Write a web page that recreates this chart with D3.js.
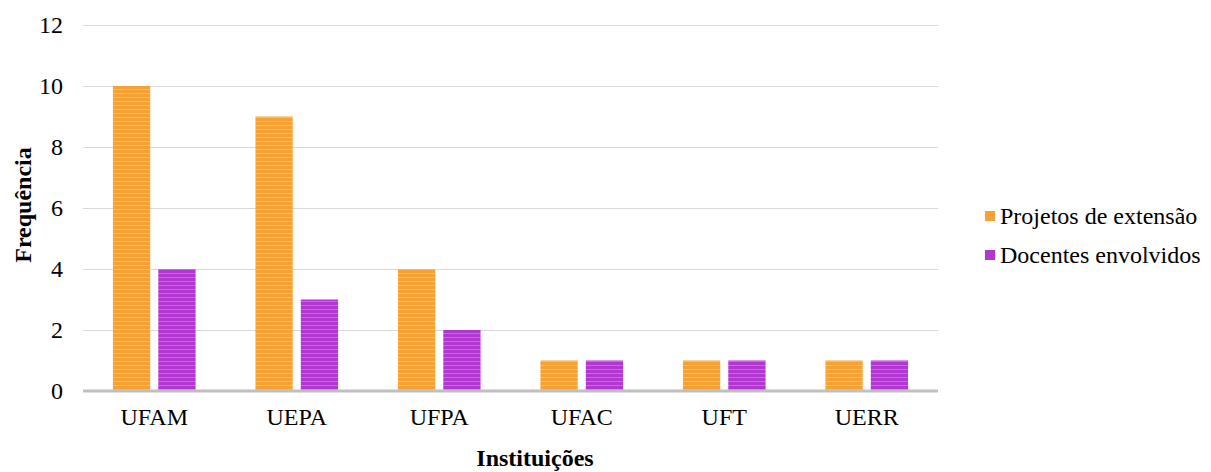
<!DOCTYPE html>
<html>
<head>
<meta charset="utf-8">
<script src="https://cdn.jsdelivr.net/npm/d3@7/dist/d3.min.js"></script>
<style>
  body { margin: 0; background: #fff; }
  svg text { font-family: 'Liberation Serif', 'Times New Roman', Times, serif; fill: #000; }
</style>
</head>
<body>
<div id="chart"></div>
<script>
'use strict';

let WIDTH = 1211;
let HEIGHT = 472;
let FONT = "'Liberation Serif', 'Times New Roman', serif";

// data
let institutions = ['UFAM', 'UEPA', 'UFPA', 'UFAC', 'UFT', 'UERR'];
let projetos = [10, 9, 4, 1, 1, 1];
let docentes = [4, 3, 2, 1, 1, 1];
let yTicks = [0, 2, 4, 6, 8, 10, 12];
let seriesNames = ['Projetos de extensão', 'Docentes envolvidos'];

let PLOT = { left: 83, right: 938, top: 25, bottom: 391 };

let COLORS = {
    orange: '#f5a134',
    orangeLight: '#fac77e',
    purple: '#b236d0',
    purpleLight: '#d57ee6',
};

let svg = d3.select('#chart')
    .append('svg')
    .attr('width', WIDTH)
    .attr('height', HEIGHT);

// striped fills like the original
let defs = svg.append('defs');
function makePattern (id, base, light) {
    let p = defs.append('pattern')
        .attr('id', id)
        .attr('patternUnits', 'userSpaceOnUse')
        .attr('width', 10)
        .attr('height', 4);
    p.append('rect').attr('width', 10).attr('height', 4).attr('fill', base);
    p.append('rect').attr('y', 1).attr('width', 10).attr('height', 1).attr('fill', light).attr('opacity', 0.7);
}
makePattern('stripeOrange', COLORS.orange, COLORS.orangeLight);
makePattern('stripePurple', COLORS.purple, COLORS.purpleLight);

let x0 = d3.scaleBand()
    .domain(institutions)
    .range([PLOT.left, PLOT.right]);

let x1 = d3.scaleBand()
    .domain([0, 1])
    .range([0, x0.bandwidth()])
    .paddingInner(0.178)
    .paddingOuter(0.66);

let y = d3.scaleLinear()
    .domain([0, 12])
    .range([PLOT.bottom, PLOT.top]);

// gridlines
svg.append('g')
    .selectAll('line')
    .data(yTicks.filter(t => t > 0))
    .enter()
    .append('line')
    .attr('x1', PLOT.left)
    .attr('x2', PLOT.right)
    .attr('y1', d => y(d) + 0.5)
    .attr('y2', d => y(d) + 0.5)
    .attr('stroke', '#d9d9d9')
    .attr('stroke-width', 1);

// y axis labels
let yAxis = d3.axisLeft(y).tickValues(yTicks).tickSize(0).tickPadding(20);
let gy = svg.append('g')
    .attr('transform', 'translate(' + PLOT.left + ',0)')
    .attr('font-family', FONT)
    .call(yAxis);
gy.attr('font-family', FONT).attr('font-size', 24);
gy.select('.domain').remove();
gy.selectAll('text')
    .attr('fill', '#000');

// bars
let rows = institutions.map((name, i) => ({ name: name, values: [projetos[i], docentes[i]] }));
let fills = ['url(#stripeOrange)', 'url(#stripePurple)'];

let groups = svg.append('g')
    .selectAll('g')
    .data(rows)
    .enter()
    .append('g')
    .attr('transform', d => 'translate(' + x0(d.name) + ',0)');

groups.selectAll('rect')
    .data(d => d.values.map((v, k) => ({ k: k, v: v })))
    .enter()
    .append('rect')
    .attr('x', d => x1(d.k))
    .attr('width', x1.bandwidth())
    .attr('y', d => y(d.v))
    .attr('height', d => y(0) - y(d.v))
    .attr('fill', d => fills[d.k]);

// baseline
svg.append('line')
    .attr('x1', PLOT.left)
    .attr('x2', PLOT.right)
    .attr('y1', y(0))
    .attr('y2', y(0))
    .attr('stroke', '#bfbfbf')
    .attr('stroke-width', 3);

// x axis labels
let xAxis = d3.axisBottom(x0).tickSize(0).tickPadding(17);
let gx = svg.append('g')
    .attr('transform', 'translate(0,' + PLOT.bottom + ')')
    .call(xAxis);
gx.attr('font-family', FONT).attr('font-size', 24);
gx.select('.domain').remove();
gx.selectAll('text')
    .attr('fill', '#000');

// axis titles
svg.append('text')
    .attr('x', 535)
    .attr('y', 466)
    .attr('text-anchor', 'middle')
    .style('font-size', '24px')
    .style('font-weight', 'bold')
    .text('Instituições');

svg.append('text')
    .attr('transform', 'translate(31,' + 205 + ') rotate(-90)')
    .attr('text-anchor', 'middle')
    .style('font-size', '24px')
    .style('font-weight', 'bold')
    .text('Frequência');

// legend
let legendColors = [COLORS.orange, COLORS.purple];
let legend = svg.append('g')
    .selectAll('g')
    .data(seriesNames)
    .enter()
    .append('g')
    .attr('transform', (d, i) => 'translate(985,' + (211 + i * 39) + ')');

legend.append('rect')
    .attr('width', 10)
    .attr('height', 10)
    .attr('fill', (d, i) => legendColors[i]);

legend.append('text')
    .attr('x', 15)
    .attr('y', 13)
    .style('font-size', '24px')
    .text(d => d);
</script>
</body>
</html>
